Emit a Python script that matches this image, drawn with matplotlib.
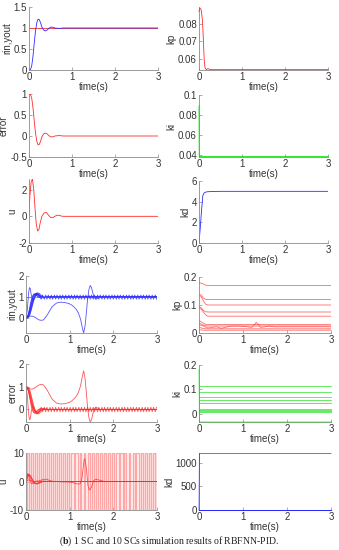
import numpy as np
import matplotlib
matplotlib.use("Agg")
import matplotlib.pyplot as plt
from matplotlib.ticker import FormatStrFormatter

plt.rcParams['font.family'] = ['Liberation Sans', 'DejaVu Sans']
plt.rcParams['axes.unicode_minus'] = False
plt.rcParams['mathtext.fontset'] = 'custom'
plt.rcParams['mathtext.rm'] = 'Liberation Serif'
plt.rcParams['mathtext.bf'] = 'Liberation Serif:bold'
plt.rcParams['path.simplify'] = False  # keep every chattering switch

# ---------------- 1 SC data ----------------
t_y1 = [0, 0.03, 0.06, 0.09, 0.12, 0.15, 0.18, 0.21, 0.24, 0.27, 0.30, 0.34, 0.38,
        0.42, 0.46, 0.50, 0.55, 0.60, 0.70, 0.80, 1.0, 3.0]
yout1 = [0, 0.01, 0.08, 0.30, 0.62, 0.92, 1.12, 1.21, 1.20, 1.12, 1.02, 0.95, 0.93,
         0.95, 0.99, 1.02, 1.02, 1.00, 0.99, 1.0, 1.0, 1.0]

t_u1 = [0, 0.02, 0.05, 0.08, 0.11, 0.14, 0.17, 0.20, 0.23, 0.26, 0.30, 0.35, 0.40,
        0.45, 0.50, 0.55, 0.60, 0.65, 0.70, 0.75, 0.8, 3.0]
u1 = [0, 1.5, 2.6, 2.8, 2.0, 0.6, -0.6, -1.1, -1.0, -0.5, 0.0, 0.25, 0.3,
      0.1, -0.08, -0.1, 0.0, 0.08, 0.08, 0.02, 0, 0]

t_kp1 = [0, 0.02, 0.05, 0.08, 0.10, 0.12, 0.14, 0.17, 0.20, 0.22, 0.25, 0.30, 3.0]
kp1 = [0.087, 0.089, 0.088, 0.082, 0.072, 0.060, 0.055, 0.054, 0.0545, 0.0545, 0.054, 0.054, 0.054]

t_ki1 = [0, 0.005, 3.0]
ki1 = [0.089, 0.038, 0.038]

t_kd1 = [0, 0.03, 0.06, 0.09, 0.12, 0.15, 0.2, 0.3, 0.5, 3.0]
kd1 = [0, 1.5, 3.2, 4.6, 4.85, 4.92, 4.96, 4.98, 5.0, 5.0]

# ---------------- 10 SCs data ----------------
t_fast = [0, 0.03, 0.06, 0.09, 0.12, 0.15, 0.18, 0.21, 0.24, 0.27, 0.30, 0.34, 0.38,
          0.42, 0.5, 0.6, 3.0]
yout_a = [0, 0.05, 0.25, 0.55, 0.85, 1.05, 1.15, 1.15, 1.10, 1.03, 0.98, 0.97, 0.99, 1.0, 1.0, 1.0, 1.0]
yout_b = [0, 0.03, 0.15, 0.40, 0.68, 0.92, 1.08, 1.17, 1.18, 1.12, 1.05, 0.98, 0.97, 0.99, 1.0, 1.0, 1.0]
yout_c = [0, 0.02, 0.10, 0.28, 0.52, 0.78, 0.98, 1.12, 1.19, 1.18, 1.12, 1.03, 0.97, 0.97, 1.0, 1.0, 1.0]
yout_d = [0, 0.01, 0.06, 0.18, 0.38, 0.62, 0.85, 1.03, 1.15, 1.20, 1.18, 1.10, 1.02, 0.98, 0.99, 1.0, 1.0]
yout_e = [0, 0.02, 0.08, 0.22, 0.45, 0.70, 0.92, 1.08, 1.16, 1.16, 1.10, 1.02, 0.98, 0.98, 1.0, 1.0, 1.0]
yout_f = [0, 0.04, 0.20, 0.48, 0.78, 1.00, 1.12, 1.13, 1.08, 1.02, 0.99, 0.98, 1.0, 1.0, 1.0, 1.0, 1.0]

t_spike = [0, 0.03, 0.06, 0.08, 0.10, 0.12, 0.15, 0.18, 0.22, 0.26, 0.30, 0.35, 0.40, 0.50, 3.0]
yout_spike = [0, 0.4, 1.2, 1.45, 1.40, 1.10, 0.85, 0.90, 1.08, 1.15, 1.10, 1.02, 0.99, 1.0, 1.0]

t_slow = [0, 0.05, 0.1, 0.15, 0.2, 0.25, 0.3, 0.35, 0.4, 0.45, 0.5, 0.55, 0.6, 0.7, 0.8,
          0.9, 1.0, 1.05, 1.1, 1.15, 1.2, 1.25, 1.29, 1.32, 1.35, 1.38, 1.41, 1.44, 1.47,
          1.5, 1.53, 1.56, 1.6, 1.65, 1.7, 1.8, 3.0]
yout_slow = [0, 0.05, 0.10, 0.10, 0.05, -0.02, -0.08, -0.10, -0.08, 0.05, 0.20, 0.38, 0.55,
             0.72, 0.76, 0.74, 0.68, 0.62, 0.53, 0.42, 0.25, -0.05, -0.45, -0.70, -0.40, 0.20,
             0.90, 1.35, 1.55, 1.45, 1.20, 0.98, 0.90, 0.95, 1.0, 1.0, 1.0]

# chattering SC: rise then oscillation between peaks and troughs
t_chat_y = [0, 0.05, 0.10, 0.15, 0.20, 0.25, 0.30,
            0.35, 0.38, 0.42, 0.45, 0.48, 0.51, 0.55, 0.58, 0.61, 0.65, 0.68, 0.71, 0.75,
            0.78, 0.81, 0.84, 0.88, 0.91, 0.94, 0.98, 1.01, 1.04, 1.08, 1.11, 1.14, 1.17,
            1.21, 1.24, 1.27, 1.31, 1.34, 1.37, 1.41, 1.44, 1.47, 1.50, 1.54, 1.57, 1.60,
            1.64, 1.67, 1.70, 1.74, 1.77, 1.80, 1.83, 1.87, 1.90, 1.93, 1.97, 2.00, 2.03,
            2.07, 2.10, 2.13, 2.16, 2.20, 2.23, 2.26, 2.30, 2.33, 2.36, 2.40, 2.43, 2.46,
            2.49, 2.53, 2.56, 2.59, 2.63, 2.66, 2.69, 2.73, 2.76, 2.79, 2.82, 2.86, 2.89,
            2.92, 2.96, 2.99]
yout_chat = [0, 0.15, 0.50, 0.85, 1.05, 1.12, 1.05] + [0.9, 1.1] * 40 + [0.9]

# chattering control signal switching times (+10 / -10)
t_chat_u = [0.02, 0.06, 0.11, 0.15, 0.21, 0.25, 0.29, 0.34, 0.39, 0.43, 0.48, 0.53, 0.57,
            0.62, 0.66, 0.72, 0.76, 0.81, 0.85, 0.90, 0.95, 0.99, 1.04, 1.09, 1.13, 1.18,
            1.23, 1.27, 1.32, 1.36, 1.42, 1.46, 1.51, 1.55, 1.60, 1.65, 1.69, 1.74, 1.79,
            1.83, 1.88, 1.93, 1.97, 2.02, 2.06, 2.12, 2.16, 2.21, 2.25, 2.30, 2.35, 2.39,
            2.44, 2.49, 2.53, 2.58, 2.63, 2.67, 2.72, 2.76, 2.82, 2.86, 2.91, 2.95, 3.0]
u_chat = [10, -10] * 32 + [10]

t_uf = [0, 0.02, 0.04, 0.06, 0.08, 0.10, 0.13, 0.16, 0.20, 0.24, 0.28, 0.32, 0.36, 0.40,
        0.45, 0.50, 0.60, 0.80, 3.0]
u_a = [0, 1.5, 2.5, 2.6, 2.0, 1.2, 0.3, -0.4, -0.8, -0.7, -0.4, -0.1, 0.1, 0.15, 0.05, 0, 0, 0, 0]
u_b = [0, 1.0, 2.0, 2.4, 2.2, 1.8, 1.0, 0.2, -0.5, -0.9, -0.8, -0.5, -0.2, 0.0, 0.05, 0.05, 0, 0, 0]
u_c = [0, 2.0, 2.8, 2.0, 0.8, -0.2, -0.8, -0.6, -0.2, 0.1, 0.1, 0.0, 0, 0, 0, 0, 0, 0, 0]
u_d = [0, 0.8, 1.6, 2.2, 2.4, 2.1, 1.3, 0.4, -0.4, -0.7, -0.6, -0.3, -0.1, 0.05, 0.05, 0, 0, 0, 0]

t_us = [0, 0.05, 0.1, 0.2, 0.3, 0.35, 0.4, 0.45, 0.5, 0.6, 0.8, 1.0, 1.1, 1.18, 1.24, 1.28,
        1.31, 1.33, 1.35, 1.38, 1.42, 1.45, 1.5, 1.55, 1.6, 1.7, 1.8, 3.0]
u_slow = [0, 0.6, 0.3, 0.0, 0.2, 0.5, 0.75, 0.8, 0.6, 0.1, -0.1, -0.2, -0.5, -0.9, -0.8, 1.0,
          5.0, 7.5, 8.0, 5.0, -1.5, -3.0, -2.0, 0.3, 0.8, 0.4, 0.0, 0.0]

t_kp = [0, 0.05, 0.10, 0.15, 0.20, 0.25, 3.0]
kp_lines = [
    [0.180, 0.178, 0.175, 0.171, 0.170, 0.170, 0.170],
    [0.140, 0.135, 0.125, 0.120, 0.120, 0.120, 0.120],
    [0.135, 0.130, 0.115, 0.103, 0.100, 0.100, 0.100],
    [0.095, 0.090, 0.080, 0.076, 0.075, 0.075, 0.075],
    [0.090, 0.085, 0.075, 0.065, 0.060, 0.060, 0.060],
    [0.045, 0.040, 0.035, 0.031, 0.030, 0.030, 0.030],
    [0.035, 0.032, 0.028, 0.026, 0.025, 0.025, 0.025],
    [0.020, 0.018, 0.016, 0.015, 0.015, 0.015, 0.015],
    [0.012, 0.011, 0.010, 0.010, 0.010, 0.010, 0.010],
]
t_kpw = [0, 0.1, 0.2, 0.3, 0.4, 0.5, 0.6, 0.7, 0.8, 1.0, 1.1, 1.2, 1.25, 1.3, 1.35, 1.4,
         1.5, 1.6, 1.7, 3.0]
kp_wiggle = [0.03, 0.025, 0.018, 0.02, 0.022, 0.017, 0.02, 0.024, 0.025, 0.024, 0.022, 0.02,
             0.028, 0.038, 0.03, 0.02, 0.022, 0.025, 0.022, 0.022]

t_step = [0, 0.01, 3.0]
ki_start = [0.115, 0.09, 0.07, 0.055, 0.045, 0.02, 0.015, 0.01, 0.008, 0.18]
ki_final = [0.115, 0.09, 0.07, 0.055, 0.045, 0.02, 0.015, 0.01, 0.008, -0.035]
kd_start = [0, 5, 5, 5, 5, 5, 5, 5, 5, 5]
kd_final = [1200, 5, 5, 5, 5, 5, 5, 5, 5, 5]

RED = '#ff2a2a'
BLUE = '#2a2aff'
GREEN = '#10e010'

W, H = 339, 550
fig = plt.figure(figsize=(W / 100, H / 100), dpi=100)


def make_ax(l, t, r, b):
    ax = fig.add_axes([l / W, 1 - b / H, (r - l) / W, (b - t) / H])
    for s in ['top', 'right']:
        ax.spines[s].set_visible(False)
    for s in ['left', 'bottom']:
        ax.spines[s].set_color('#8a8a8a')
        ax.spines[s].set_linewidth(0.6)
    ax.tick_params(direction='in', length=2, width=0.5, colors='#8a8a8a',
                   labelsize=7, labelcolor='#333333', pad=1.5)
    ax.set_xlim(0, 3)
    ax.set_xticks([0, 1, 2, 3])
    ax.set_xlabel('time(s)', fontsize=7, color='#333333', labelpad=0)
    ax.yaxis.set_major_formatter(FormatStrFormatter('%g'))
    return ax


def ylab(ax, text):
    ax.set_ylabel(text, fontsize=7, color='#333333', labelpad=1)


lw = 0.6

# Row 1
ax = make_ax(29, 7, 158, 70)
ax.plot([0, 3], [1, 1], color=RED, lw=lw)
ax.plot(t_y1, yout1, color=BLUE, lw=lw)
ax.set_ylim(0, 1.5)
ax.set_yticks([0, 0.5, 1, 1.5])
ylab(ax, 'rin,yout')

ax = make_ax(199, 7, 328, 70)
ax.plot(t_kp1, kp1, color=RED, lw=lw, clip_on=False, zorder=3)
ax.set_ylim(0.0538, 0.0895)
ax.set_yticks([0.06, 0.07, 0.08])
ylab(ax, 'kp')

# Row 2
ax = make_ax(29, 94, 158, 157)
ax.plot(t_y1, 1 - np.array(yout1), color=RED, lw=lw)
ax.set_ylim(-0.5, 1)
ax.set_yticks([-0.5, 0, 0.5, 1])
ylab(ax, 'error')

ax = make_ax(199, 95, 328, 157)
ax.plot(t_ki1, ki1, color=GREEN, lw=lw, clip_on=False, zorder=3)
ax.set_ylim(0.0375, 0.1)
ax.set_yticks([0.04, 0.06, 0.08, 0.1])
ylab(ax, 'ki')

# Row 3
ax = make_ax(29, 179, 158, 243)
ax.plot(t_u1, u1, color=RED, lw=lw)
ax.set_ylim(-2, 2.8)
ax.set_yticks([-2, 0, 2])
ylab(ax, 'u')

ax = make_ax(199, 181, 328, 243)
ax.plot(t_kd1, kd1, color=BLUE, lw=lw)
ax.set_ylim(0, 6)
ax.set_yticks([0, 2, 4, 6])
ylab(ax, 'kd')

# Row 4: 10 SCs rin,yout
fast_curves = [yout_a, yout_b, yout_c, yout_d, yout_e, yout_f]
ax = make_ax(26, 276, 157, 333)
ax.plot(t_chat_y, yout_chat, color=BLUE, lw=lw, alpha=0.8)
for yc in fast_curves:
    ax.plot(t_fast, yc, color=BLUE, lw=lw, alpha=0.8)
ax.plot(t_spike, yout_spike, color=BLUE, lw=lw, alpha=0.8)
ax.plot(t_slow, yout_slow, color=BLUE, lw=lw, alpha=0.8)
ax.plot([0, 3], [1, 1], color=RED, lw=lw, alpha=0.8)
ax.set_ylim(-0.7, 2)
ax.set_yticks([0, 1, 2])
ylab(ax, 'rin,yout')

ax = make_ax(199, 277, 331, 333)
for k in kp_lines:
    ax.plot(t_kp, k, color=RED, lw=lw, alpha=0.7)
ax.plot(t_kpw, kp_wiggle, color=RED, lw=lw, alpha=0.7)
ax.set_ylim(0, 0.2)
ax.set_yticks([0, 0.1, 0.2])
ylab(ax, 'kp')

# Row 5: error
ax = make_ax(26, 364, 157, 422)
ax.plot(t_chat_y, 1 - np.array(yout_chat), color=RED, lw=lw, alpha=0.8)
for yc in fast_curves:
    ax.plot(t_fast, 1 - np.array(yc), color=RED, lw=lw, alpha=0.7)
ax.plot(t_spike, 1 - np.array(yout_spike), color=RED, lw=lw, alpha=0.8)
ax.plot(t_slow, 1 - np.array(yout_slow), color=RED, lw=lw, alpha=0.8)
ax.set_ylim(-0.55, 2)
ax.set_yticks([0, 1, 2])
ylab(ax, 'error')

ax = make_ax(199, 365, 331, 422)
for s, f in zip(ki_start, ki_final):
    ax.plot(t_step, [s, f, f], color=GREEN, lw=lw, alpha=0.75, clip_on=False, zorder=3)
ax.set_ylim(-0.035, 0.2)
ax.set_yticks([0, 0.1, 0.2])
ylab(ax, 'ki')

# Row 6: u
ax = make_ax(26, 453, 157, 510)
ax.vlines(t_chat_u, -10, 10, colors='#ffa6a6', linewidth=0.9)
ax.plot([0] + t_chat_u, [0] + u_chat, color='#ffa6a6', lw=0.9,
        drawstyle='steps-post')
for uc in [u_a, u_b, u_c, u_d]:
    ax.plot(t_uf, uc, color=RED, lw=lw, alpha=0.8)
ax.plot(t_us, u_slow, color=RED, lw=lw, alpha=0.8)
ax.set_ylim(-10, 10)
ax.set_yticks([-10, 0, 10])
ylab(ax, 'u')

ax = make_ax(199, 453, 331, 510)
for s, f in zip(kd_start, kd_final):
    ax.plot(t_step, [s, f, f], color=BLUE, lw=lw, alpha=0.8, clip_on=False, zorder=3)
ax.set_ylim(0, 1210)
ax.set_yticks([0, 500, 1000])
ylab(ax, 'kd')

fig.text(0.5, 1 - 541 / H,
         r'($\mathbf{b}$) 1 SC and 10 SCs simulation results of RBFNN-PID.',
         ha='center', va='center', fontsize=7, family='Liberation Serif', color='#222222')

fig.savefig('out.png', dpi=100)
